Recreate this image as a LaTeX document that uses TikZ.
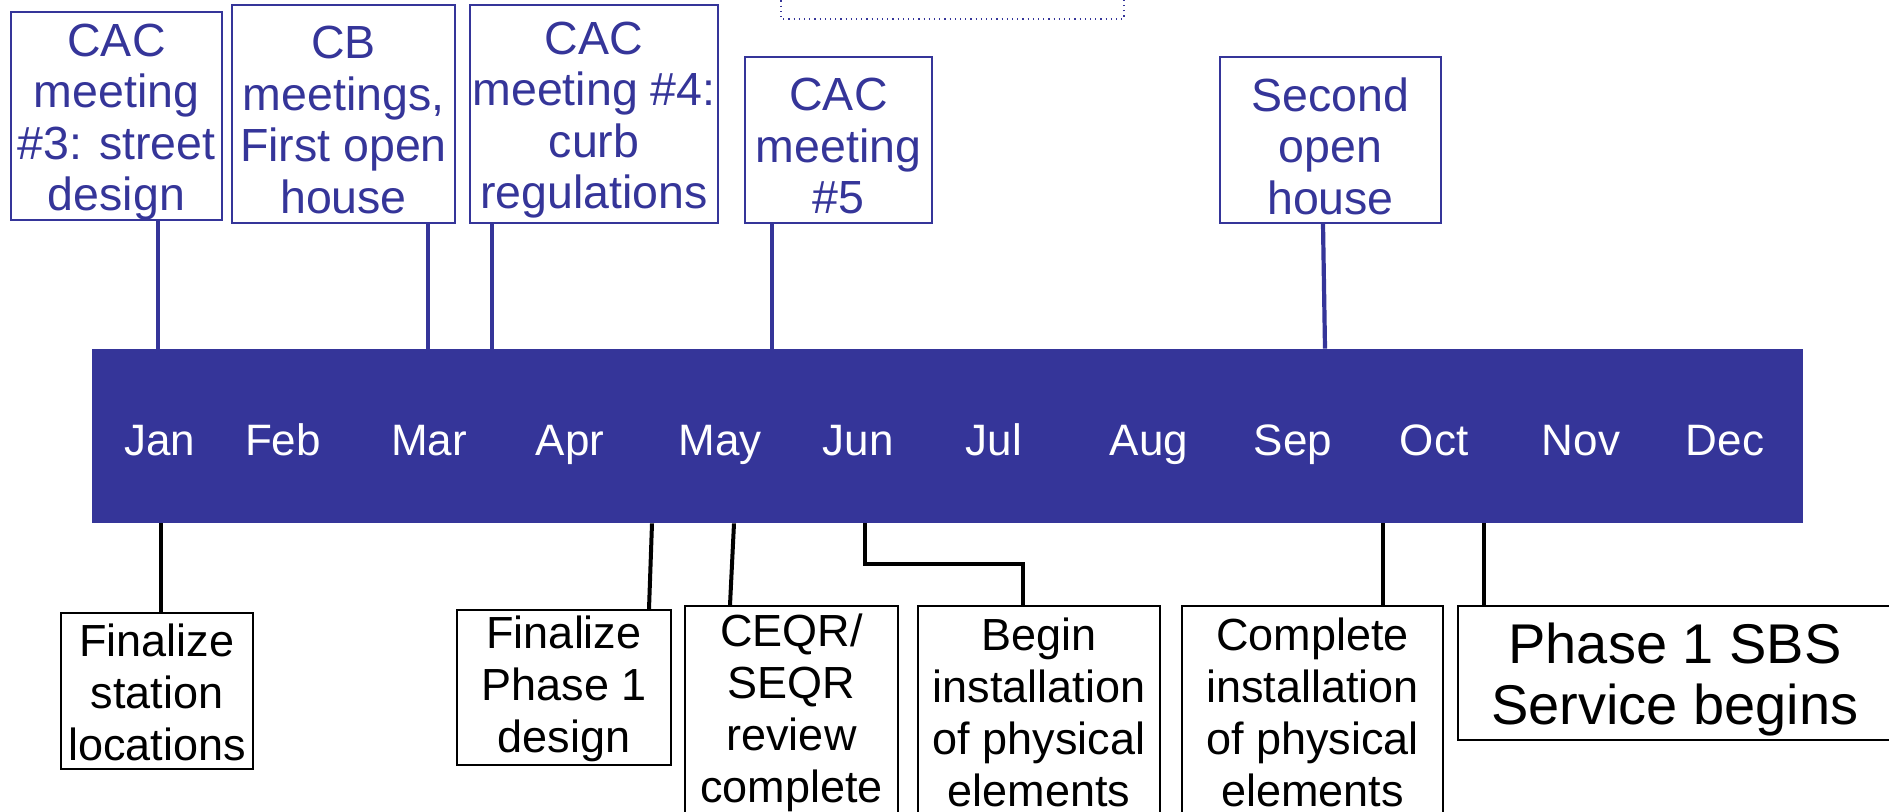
\documentclass[tikz,border=0pt]{standalone}
\usepackage{fontspec}
\setmainfont{Liberation Sans}
\definecolor{tlblue}{RGB}{53,53,153}
\begin{document}
\begin{tikzpicture}[x=0.5pt,y=-0.5pt,
  topbox/.style={draw=tlblue, line width=1pt, inner sep=0pt},
  toptext/.style={text=tlblue, inner sep=0pt, align=center, yshift=-3pt,
    font=\fontsize{23.25}{25.75}\selectfont},
  botbox/.style={draw=black, line width=0.9pt, inner sep=0pt},
  bottext/.style={text=black, inner sep=0pt, align=center, yshift=-0.3pt,
    font=\fontsize{22.5}{26}\selectfont},
  bigtext/.style={bottext, yshift=-3pt, font=\fontsize{28}{30.5}\selectfont},
  month/.style={text=white, inner sep=0pt, anchor=base, font=\fontsize{22}{26}\selectfont},
  topline/.style={draw=tlblue, line width=2.1pt},
  botline/.style={draw=black, line width=2pt},
  dotbox/.style={draw=tlblue, dotted, line width=0.6pt}]
\useasboundingbox (0,0) rectangle (1889,812);
\clip (0,0) rectangle (1889,812);
\fill[white] (0,0) rectangle (1889,812);

% dotted box at top
\draw[dotbox] (781,-10) rectangle (1124,19);

% timeline bar
\node[fill=tlblue, inner sep=0pt, minimum width=855.5pt, minimum height=87pt] (bar) at (947.5,436) {};

% months
\node[month] (jan) at (160,455) {Jan};
\node[month] (feb) at (283,455) {Feb};
\node[month] (mar) at (429,455) {Mar};
\node[month] (apr) at (570,455) {Apr};
\node[month] (may) at (720,455) {May};
\node[month] (jun) at (858,455) {Jun};
\node[month] (jul) at (994,455) {Jul};
\node[month] (aug) at (1149,455) {Aug};
\node[month] (sep) at (1293,455) {Sep};
\node[month] (oct) at (1434,455) {Oct};
\node[month] (nov) at (1581,455) {Nov};
\node[month] (dec) at (1725,455) {Dec};

% top boxes
\node[topbox, minimum width=105.5pt, minimum height=104pt] (t1) at (116.5,116) {};
\node[toptext] (t1l) at (t1) {CAC\\meeting\\\#3: street\\design};
\node[topbox, minimum width=111.5pt, minimum height=109pt] (t2) at (343.5,114) {};
\node[toptext] (t2l) at (t2) {CB\\meetings,\\First open\\house};
\node[topbox, minimum width=124pt, minimum height=109pt] (t3) at (594,114) {};
\node[toptext] (t3l) at (t3) {CAC\\meeting \#4:\\curb\\regulations};
\node[topbox, minimum width=93.5pt, minimum height=83pt] (t4) at (838.5,140) {};
\node[toptext] (t4l) at (t4) {CAC\\meeting\\\#5};
\node[topbox, minimum width=110.5pt, minimum height=83pt] (t5) at (1330.5,140) {};
\node[toptext] (t5l) at (t5) {Second\\open\\house};

% top connectors
\draw[topline] (158,0 |- t1.south) -- (158,0 |- bar.north);
\draw[topline] (428,0 |- t2.south) -- (428,0 |- bar.north);
\draw[topline] (492,0 |- t3.south) -- (492,0 |- bar.north);
\draw[topline] (772,0 |- t4.south) -- (772,0 |- bar.north);
\draw[topline] (1323,0 |- t5.south) -- (1325,0 |- bar.north);

% bottom boxes
\node[botbox, minimum width=96pt, minimum height=78pt] (b1) at (157,691) {};
\node[bottext, yshift=-0.2pt] (b1l) at (b1) {Finalize\\station\\locations};
\node[botbox, minimum width=107pt, minimum height=77.5pt] (b2) at (564,687.5) {};
\node[bottext, yshift=-0.2pt] (b2l) at (b2) {Finalize\\Phase 1\\design};
\node[botbox, minimum width=106.5pt, minimum height=106pt] (b3) at (791.5,712) {};
\node[bottext] (b3l) at (b3) {CEQR/\\SEQR\\review\\complete};
\node[botbox, minimum width=121pt, minimum height=106pt] (b4) at (1039,712) {};
\node[bottext] (b4l) at (b4) {Begin\\installation\\of physical\\elements};
\node[botbox, minimum width=130.5pt, minimum height=106pt] (b5) at (1312.5,712) {};
\node[bottext] (b5l) at (b5) {Complete\\installation\\of physical\\elements};
\node[botbox, minimum width=217pt, minimum height=67pt] (b6) at (1675,673) {};
\node[bigtext] (b6l) at (b6) {Phase 1 SBS\\Service begins};

% bottom connectors
\draw[botline] (161,0 |- bar.south) -- (161,0 |- b1.north);
\draw[botline] (652,0 |- bar.south) -- (649,0 |- b2.north);
\draw[botline] (734,0 |- bar.south) -- (730,0 |- b3.north);
\draw[botline] (865,0 |- bar.south) |- (1023,564) -- (1023,0 |- b4.north);
\draw[botline] (1383,0 |- bar.south) -- (1383,0 |- b5.north);
\draw[botline] (1484,0 |- bar.south) -- (1484,0 |- b6.north);
\end{tikzpicture}
\end{document}
